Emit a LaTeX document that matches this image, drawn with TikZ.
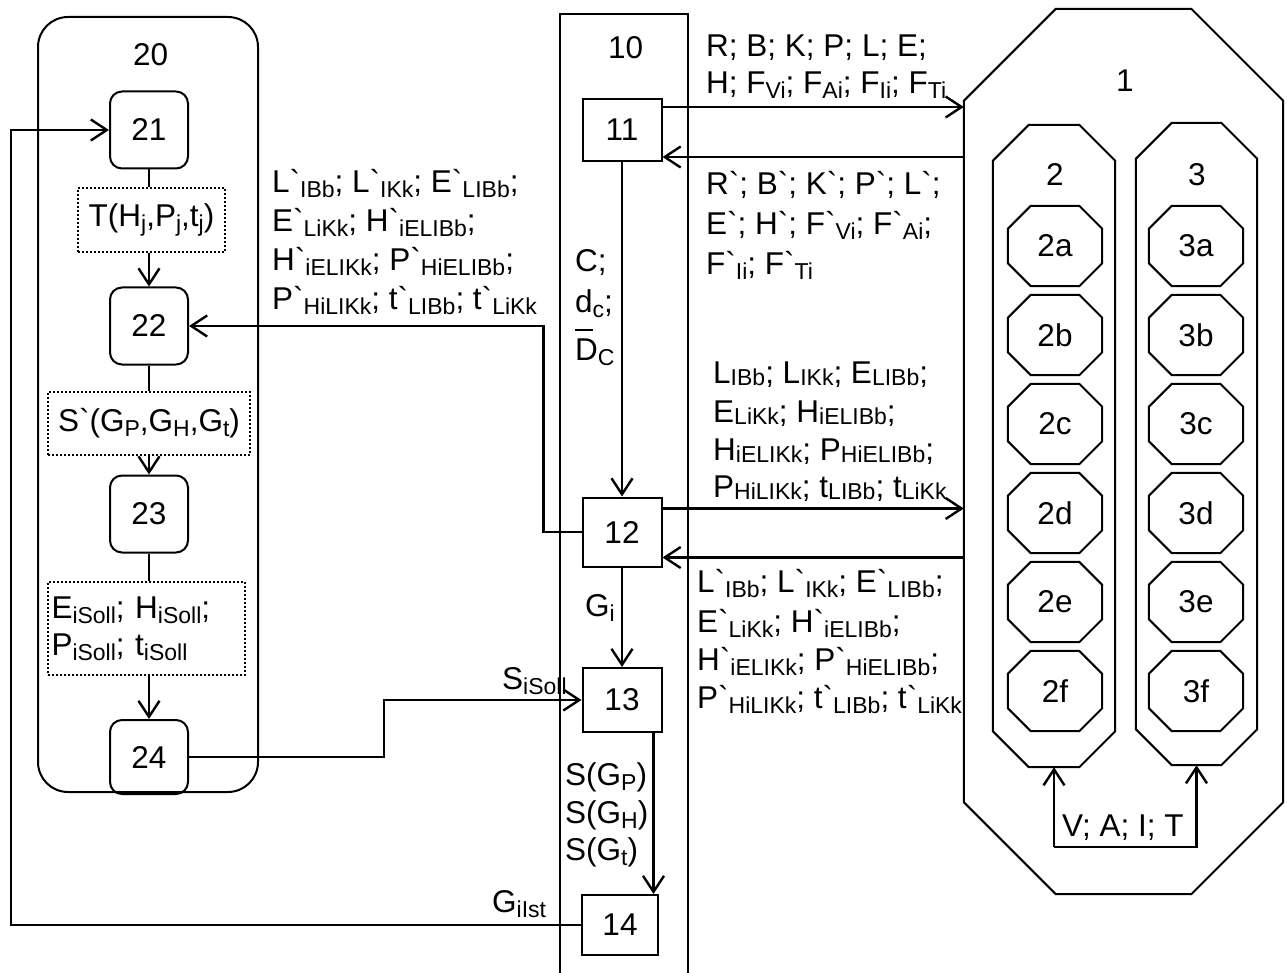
\documentclass[tikz,border=0pt]{standalone}
\usepackage{fontspec}
\setmainfont{Liberation Sans}
\usetikzlibrary{arrows.meta,calc}
\newcommand\sbs[1]{\raisebox{-5pt}{\fontsize{23}{23}\selectfont #1}}
\newcommand\sbu[1]{\raisebox{-2pt}{\fontsize{23}{23}\selectfont #1}}
\newcommand\bq{\textasciigrave}
\newcommand\octo[7]{%
 \node[minimum width=#4pt, minimum height=#5pt] (#1) at (#2,#3) {#7};
 \draw[outl] ($(#1.north west)+(#6,0)$) -- ($(#1.north east)+(-#6,0)$) -- ($(#1.north east)+(0,#6)$) -- ($(#1.south east)+(0,-#6)$) -- ($(#1.south east)+(-#6,0)$) -- ($(#1.south west)+(#6,0)$) -- ($(#1.south west)+(0,-#6)$) -- ($(#1.north west)+(0,#6)$) -- cycle;}
\begin{document}
\begin{tikzpicture}[x=1pt,y=-1pt,
 every node/.style={font=\fontsize{31.5}{37}\selectfont, inner sep=0pt},
 outl/.style={line width=2pt},
 box/.style={draw, line width=2pt, minimum width=79pt},
 rbox/.style={draw, line width=2pt, rounded corners=12pt, minimum width=78pt, minimum height=77pt},
 dbox/.style={draw, line width=2.2pt, dash pattern=on 2pt off 2pt},
 arr/.style={line width=2.4pt, -{Straight Barb[length=16pt,width=21pt,line width=2.4pt]}},
 ln/.style={line width=2.4pt},
 lab/.style={anchor=base west}
]
\useasboundingbox (0,0) rectangle (1287,973);
\fill[white] (0,0) rectangle (1287,973);

% ---- block 20
\node[draw, line width=2pt, rounded corners=30pt, minimum width=220pt, minimum height=775pt] (b20) at (148,404.5) {};
\node[lab] (l20) at (133,66) {20};
\node[rbox] (n21) at (149,130) {21};
\node[dbox, minimum width=147pt, minimum height=64pt] (t1) at (151.5,220) {T(H\sbs{j},P\sbs{j},t\sbs{j})};
\node[rbox] (n22) at (149,326) {22};
\node[dbox, minimum width=202pt, minimum height=63pt] (t2) at (149,423.5) {S\bq(G\sbs{P},G\sbs{H},G\sbs{t})};
\node[rbox] (n23) at (149,514) {23};
\node[dbox, minimum width=197pt, minimum height=93pt, text width=190pt, align=left] (t3) at (146.5,628.5) {E\sbs{iSoll}; H\sbs{iSoll};\\P\sbs{iSoll}; t\sbs{iSoll}};
\node[rbox, minimum height=74pt] (n24) at (149,757) {24};

\draw[ln] (n21.south) -- (n21.south |- t1.north);
\draw[arr] (n22.north |- t1.south) -- (n22.north);
\draw[ln] (n22.south) -- (t2.north);
\draw[arr] (t2.south) -- (n23.north);
\draw[ln] (n23.south) -- (n23.south |- t3.north);
\draw[arr] (n24.north |- t3.south) -- (n24.north);

% ---- block 10
\node[draw, line width=2pt, minimum width=128pt, minimum height=980pt] (b10) at (624,504) {};
\node[lab] (l10) at (608,59) {10};
\node[box, minimum height=62pt] (n11) at (622,130) {11};
\node[box, minimum height=69pt] (n12) at (622,532) {12};
\node[box, minimum height=64pt] (n13) at (622,700) {13};
\node[box, minimum width=76pt, minimum height=60pt] (n14) at (620,925) {14};

% ---- block 1
\octo{o1}{1123.5}{451.5}{319}{885}{92}{}
\node[lab] (l1) at (1116,92) {1};
\octo{o2}{1054}{446}{122}{642}{36}{}
\node[lab] (l2) at (1046,186) {2};
\octo{o3}{1196.5}{444}{121}{642}{36}{}
\node[lab] (l3) at (1188,186) {3};
\octo{s2a}{1055}{246}{94}{80}{23}{2a}
\octo{s2b}{1055}{335}{94}{80}{23}{2b}
\octo{s2c}{1055}{424}{94}{80}{23}{2c}
\octo{s2d}{1055}{513}{94}{80}{23}{2d}
\octo{s2e}{1055}{602}{94}{80}{23}{2e}
\octo{s2f}{1055}{691}{94}{80}{23}{2f}
\octo{s3a}{1196}{246}{94}{80}{23}{3a}
\octo{s3b}{1196}{335}{94}{80}{23}{3b}
\octo{s3c}{1196}{424}{94}{80}{23}{3c}
\octo{s3d}{1196}{513}{94}{80}{23}{3d}
\octo{s3e}{1196}{602}{94}{80}{23}{3e}
\octo{s3f}{1196}{691}{94}{80}{23}{3f}

% ---- connectors
\coordinate (a1) at ($(n11.north east)+(0,9)$);
\draw[arr] (a1) -- (a1 -| o1.west);
\coordinate (a2) at ($(n11.south east)+(0,-5)$);
\draw[arr] (a2 -| o1.west) -- (a2);
\draw[arr] (n11.south) -- (n12.north);
\coordinate (a3) at ($(n12.north east)+(0,12)$);
\draw[arr] (a3) -- (a3 -| o1.west);
\coordinate (a4) at ($(n12.south east)+(0,-10)$);
\draw[arr] (a4 -| o1.west) -- (a4);
\draw[arr] (n12.west) -- ++(-38,0) |- (n22.east);
\draw[arr] (n12.south) -- (n13.north);
\coordinate (b1) at ($(n13.south east)+(-9,0)$);
\draw[arr] (b1) -- (b1 |- n14.north);
\draw[arr] (n24.east) -- ++(195,0) |- (n13.west);
\draw[arr] (n14.west) -- ++(-570,0) |- (n21.west);
\coordinate (v1) at ($(o2.south)+(0,80)$);
\draw[arr] (v1) -- (o2.south);
\draw[arr] (v1) -| (o3.south);

% ---- labels
\node[lab] (r1) at (706,57) {R; B; K; P; L; E;};
\node[lab] (r2) at (706,94) {H; F\sbs{Vi}; F\sbs{Ai}; F\sbs{Ii}; F\sbs{Ti}};
\node[lab] (q1) at (706,195) {R\bq; B\bq; K\bq; P\bq; L\bq;};
\node[lab] (q2) at (706,235) {E\bq; H\bq; F\bq\sbs{Vi}; F\bq\sbs{Ai};};
\node[lab] (q3) at (706,275) {F\bq\sbs{Ii}; F\bq\sbs{Ti}};

\node[lab] (m1) at (713,383) {L\sbu{IBb}; L\sbu{IKk}; E\sbu{LIBb};};
\node[lab] (m2) at (713,422) {E\sbu{LiKk}; H\sbu{iELIBb};};
\node[lab] (m3) at (713,460) {H\sbu{iELIKk}; P\sbu{HiELIBb};};
\node[lab] (m4) at (713,497) {P\sbu{HiLIKk}; t\sbu{LIBb}; t\sbu{LiKk}};

\node[lab] (k1) at (697,592) {L\bq\sbs{IBb}; L\bq\sbs{IKk}; E\bq\sbs{LIBb};};
\node[lab] (k2) at (697,632) {E\bq\sbs{LiKk}; H\bq\sbs{iELIBb};};
\node[lab] (k3) at (697,670) {H\bq\sbs{iELIKk}; P\bq\sbs{HiELIBb};};
\node[lab] (k4) at (697,708) {P\bq\sbs{HiLIKk}; t\bq\sbs{LIBb}; t\bq\sbs{LiKk}};

\node[lab] (j1) at (272,193) {L\bq\sbs{IBb}; L\bq\sbs{IKk}; E\bq\sbs{LIBb};};
\node[lab] (j2) at (272,232) {E\bq\sbs{LiKk}; H\bq\sbs{iELIBb};};
\node[lab] (j3) at (272,271) {H\bq\sbs{iELIKk}; P\bq\sbs{HiELIBb};};
\node[lab] (j4) at (272,310) {P\bq\sbs{HiLIKk}; t\bq\sbs{LIBb}; t\bq\sbs{LiKk}};

\node[lab] (c1) at (575,272) {C;};
\node[lab] (c2) at (575,313) {d\sbs{c};};
\node[lab] (c3) at (575,360) {D\sbs{C}};
\draw[line width=1.6pt] ($(c2.base west)+(0,17)$) -- ++(18,0);

\node[lab] (gi) at (585,616) {G\sbs{i}};
\node[lab] (ss) at (502,689) {S\sbs{iSoll}};
\node[lab] (gist) at (492,912) {G\sbs{iIst}};
\node[lab] (sg1) at (565,785) {S(G\sbs{P})};
\node[lab] (sg2) at (565,823) {S(G\sbs{H})};
\node[lab] (sg3) at (565,860) {S(G\sbs{t})};
\node[lab] (vait) at (1062,836) {V; A; I; T};
\end{tikzpicture}
\end{document}
